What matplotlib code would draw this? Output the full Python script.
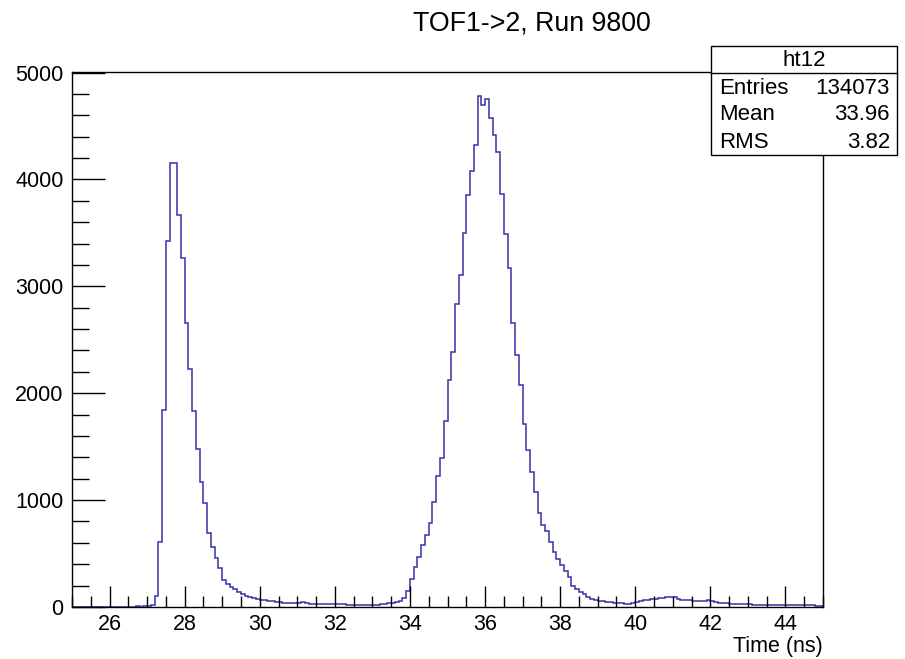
import numpy as np
import matplotlib
matplotlib.use("Agg")
import matplotlib.pyplot as plt
from matplotlib.patches import Rectangle
from matplotlib.ticker import MultipleLocator

plt.rcParams['font.family'] = ['Liberation Sans', 'DejaVu Sans']

# histogram ht12: 200 bins of 0.1 ns from 25 to 45 ns
x_min, x_max, bin_w = 25.0, 45.0, 0.1
counts = [
    # 25.0 - 26.9
    3, 2, 4, 3, 2, 3, 4, 3, 2, 3, 3, 4, 2, 3, 3, 4, 3, 5, 4, 6,
    # 27.0 - 28.9
    8, 20, 105, 605, 1845, 3424, 4150, 4150, 3672, 3268,
    2658, 2224, 1838, 1482, 1174, 972, 688, 566, 458, 361,
    # 29.0 - 30.9
    256, 217, 186, 165, 138, 118, 103, 91, 80, 73,
    68, 62, 58, 52, 48, 45, 42, 40, 38, 36,
    # 31.0 - 32.9
    35, 44, 38, 30, 31, 28, 29, 26, 27, 25,
    27, 24, 25, 22, 20, 18, 17, 16, 18, 17,
    # 33.0 - 34.9
    20, 22, 26, 30, 34, 38, 47, 55, 81, 150,
    262, 376, 470, 578, 672, 787, 983, 1225, 1396, 1744,
    # 35.0 - 36.9
    2124, 2382, 2833, 3106, 3501, 3859, 4076, 4325, 4780, 4700,
    4757, 4572, 4417, 4258, 3866, 3489, 3170, 2657, 2355, 2075,
    # 37.0 - 38.9
    1710, 1470, 1260, 1080, 880, 770, 712, 610, 515, 450,
    390, 335, 278, 200, 170, 145, 118, 96, 78, 66,
    # 39.0 - 40.9
    58, 54, 50, 46, 42, 40, 36, 30, 32, 42,
    50, 55, 62, 66, 72, 76, 80, 86, 90, 92,
    # 41.0 - 42.9
    90, 72, 70, 66, 64, 60, 56, 53, 58, 64,
    52, 48, 42, 36, 34, 32, 30, 28, 27, 25,
    # 43.0 - 44.9
    24, 22, 21, 20, 19, 19, 18, 19, 19, 20,
    21, 22, 23, 22, 20, 22, 18, 16, 12, 6,
]
edges = x_min + bin_w * np.arange(len(counts) + 1)

hist_name = "ht12"
stat_labels = ["Entries", "Mean", "RMS"]
stat_values = ["134073", "33.96", "3.82"]

W, H = 905, 659
fig = plt.figure(figsize=(W / 100, H / 100), dpi=100)
ax = fig.add_axes([72 / W, 1 - 607 / H, (823 - 72) / W, (607 - 71.5) / H])

ax.stairs(counts, edges, color="#3333aa", lw=1.1)

ax.set_xlim(x_min, x_max)
ax.set_ylim(0, 5010)
ax.xaxis.set_major_locator(MultipleLocator(2))
ax.xaxis.set_minor_locator(MultipleLocator(0.5))
ax.yaxis.set_major_locator(MultipleLocator(1000))
ax.yaxis.set_minor_locator(MultipleLocator(200))
ax.tick_params(axis="both", which="both", direction="in", color="black",
               labelsize=15.5, width=1, top=False, right=False)
ax.tick_params(axis="y", which="major", length=24, pad=6)
ax.tick_params(axis="y", which="minor", length=12)
ax.tick_params(axis="x", which="major", length=15, pad=5)
ax.tick_params(axis="x", which="minor", length=8)
for s in ax.spines.values():
    s.set_linewidth(1)

ax.set_xlabel("Time (ns)", fontsize=15.5)
ax.xaxis.set_label_coords(1.0, -0.055)
ax.xaxis.label.set_horizontalalignment("right")

fig.text(532 / W, 1 - 23 / H, "TOF1->2, Run 9800", fontsize=19.3,
         ha="center", va="center")

# stats box
bx0, bx1, by0, by1, bsep = 711, 897, 46, 155, 72.5
fig.patches.append(Rectangle((bx0 / W, 1 - by1 / H), (bx1 - bx0) / W,
                             (by1 - by0) / H, transform=fig.transFigure,
                             facecolor="white", edgecolor="black", lw=1,
                             zorder=5))
fig.add_artist(plt.Line2D([bx0 / W, bx1 / W], [1 - bsep / H, 1 - bsep / H],
                          transform=fig.transFigure, color="black", lw=1,
                          zorder=6))
fig.text((bx0 + bx1) / 2 / W, 1 - 60 / H, hist_name, fontsize=16,
         ha="center", va="center", zorder=7)
for i, (lab, val) in enumerate(zip(stat_labels, stat_values)):
    yy = 1 - (88 + 27 * i) / H
    fig.text(719 / W, yy, lab, fontsize=16, ha="left", va="center", zorder=7)
    fig.text(890 / W, yy, val, fontsize=16, ha="right", va="center", zorder=7)

fig.savefig("out.png", dpi=100)
